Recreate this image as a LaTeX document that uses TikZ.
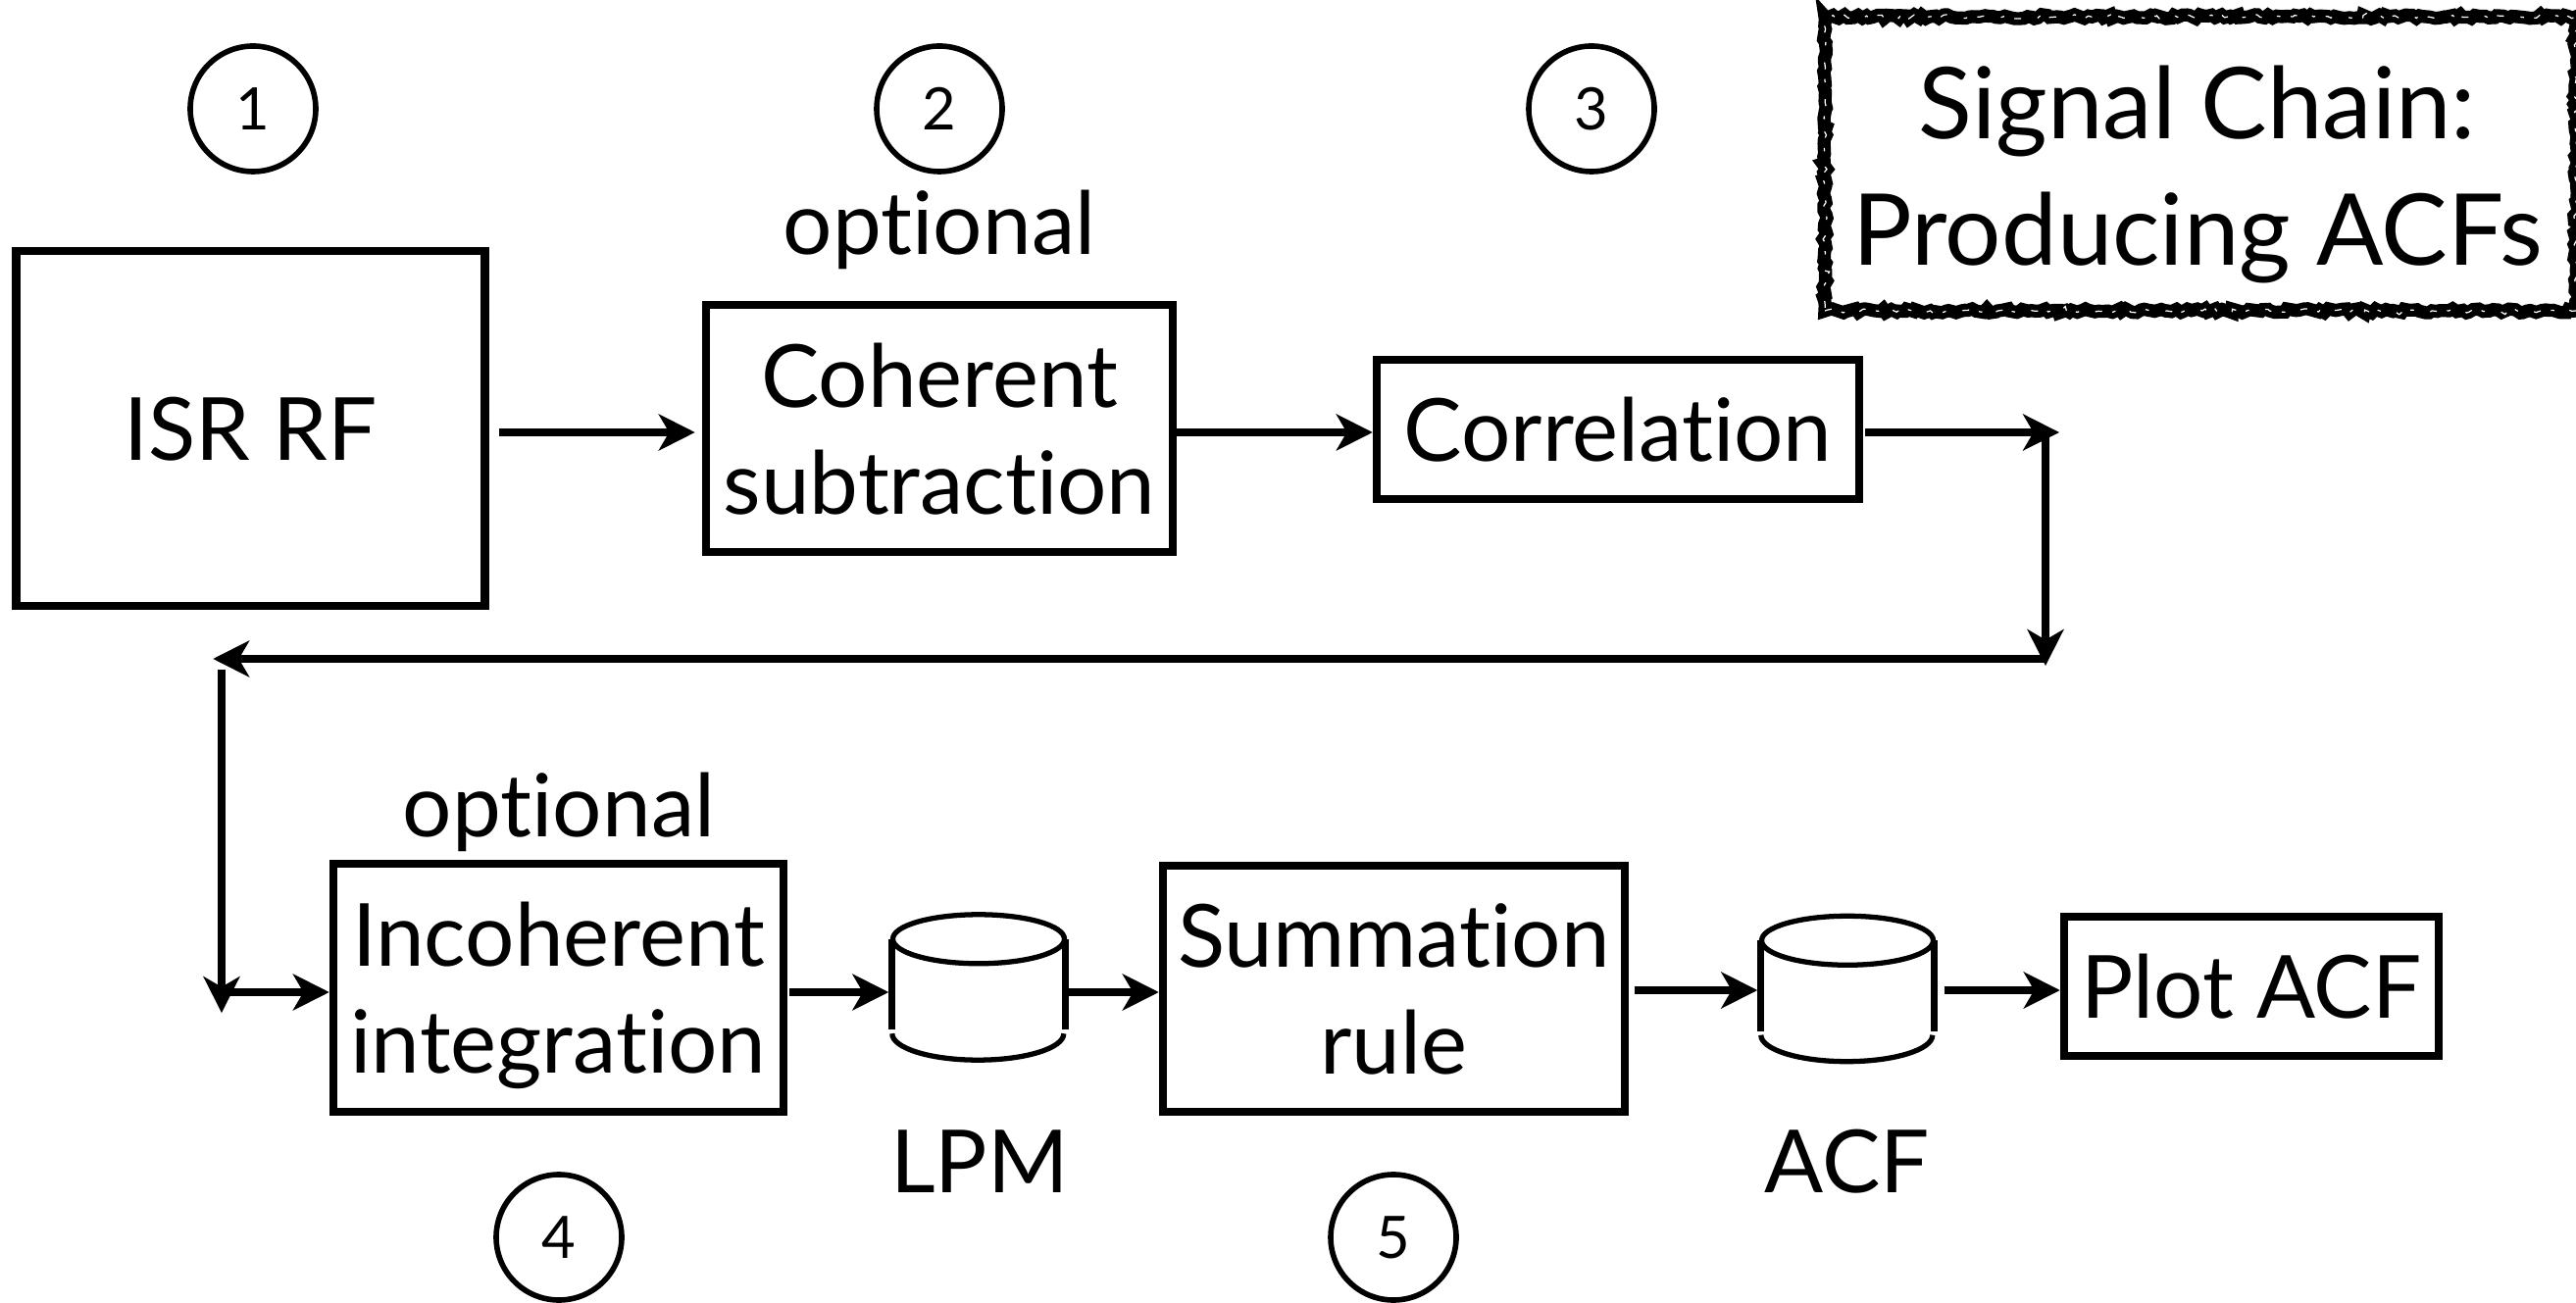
\documentclass[tikz,border=0pt]{standalone}
\usepackage{fontspec}
\setmainfont{Lato}[Ligatures={NoCommon}]
\usetikzlibrary{arrows.meta,decorations.pathmorphing}

\tikzstyle{stage} = [draw,line width=2.4pt,inner sep=0pt,align=center,text depth=0pt,font=\fontsize{25.3}{31}\selectfont]
\tikzstyle{caption} = [inner sep=0pt,align=center,font=\fontsize{25.3}{31}\selectfont]
\tikzstyle{stepnum} = [shape=circle,draw,line width=1.6pt,minimum size=1.28cm,inner sep=0pt,font=\fontsize{17}{19}\selectfont]
\tikzstyle{store} = [minimum width=1.75cm,minimum height=1.47cm,inner sep=0pt]
\tikzstyle{storerim} = [line width=1.5pt]
\tikzstyle{storeside} = [line width=2pt]
\tikzstyle{arrowdecorate} = [-{Stealth[length=10.5pt,width=10.5pt,inset=3pt]},line width=2.3pt]
\tikzstyle{roughbox} = [draw,line width=3.8pt,inner sep=0pt,
  decorate,decoration={random steps,segment length=1.2pt,amplitude=0.6pt},
  postaction={draw,white,line width=0.35pt,dash pattern=on 2pt off 3pt on 1pt off 5pt,decorate,decoration={random steps,segment length=1.5pt,amplitude=1.4pt}}]

\begin{document}
\begin{tikzpicture}
  \useasboundingbox (0,0) rectangle (26.27,-13.29);
  \pgfmathsetseed{12}

  \foreach \nodename/\caption/\x/\y/\w/\h in {
    isr/{ISR RF}/2.555/-4.37/4.78/3.62,
    coherent/{Coherent\\subtraction}/9.58/-4.37/4.76/2.52,
    correlation/{Correlation}/16.50/-4.38/4.92/1.42,
    incoherent/{Incoherent\\integration}/5.695/-10.075/4.59/2.53,
    summation/{Summation\\rule}/14.215/-10.085/4.71/2.51,
    plot/{Plot ACF}/22.96/-10.06/3.82/1.42}
  {
    \node[stage, minimum width=\w cm, minimum height=\h cm] (\nodename) at (\x,\y) {\caption};
  }

  \foreach \nodename/\value/\x/\y in {
    one/1/2.58/-1.11, two/2/9.58/-1.11, three/3/16.23/-1.11,
    four/4/5.70/-12.62, five/5/14.21/-12.62}
  {
    \node[stepnum] (\nodename) at (\x,\y) {\value};
  }

  \node[store] (lpm) at (9.98,-10.07) {};
  \node[store] (acf) at (18.84,-10.085) {};

  %drums
  \foreach \nodename in {lpm, acf}
  {
    \draw[storerim] ([yshift=-0.25cm]\nodename.north) ellipse [x radius=0.875, y radius=0.25];
    \draw[storeside] ([yshift=-0.25cm]\nodename.north west) -- ([yshift=0.31cm]\nodename.south west);
    \draw[storeside] ([yshift=-0.25cm]\nodename.north east) -- ([yshift=0.31cm]\nodename.south east);
    \draw[storerim] ([yshift=0.27cm]\nodename.south west) arc [start angle=180, end angle=360, x radius=0.875, y radius=0.27];
  }

  \node[caption] (optionala) at (9.58,-2.34) {optional};
  \node[caption] (optionalb) at (5.70,-8.28) {optional};
  \node[caption] (lpmname) at (9.99,-11.85) {LPM};
  \node[caption] (acfname) at (18.84,-11.85) {ACF};

  \node[roughbox, minimum width=7.66cm, minimum height=3.0cm] (titlebox) at (22.44,-1.67) {};
  \node[caption, font=\fontsize{28.8}{36.8}\selectfont] (title) at (22.41,-1.78) {Signal Chain:\\Producing ACFs};

  %bend points
  \coordinate (corner) at (20.86,-4.41);
  \coordinate (turn) at (20.86,-6.72);
  \coordinate (back) at (2.26,-6.72);
  \coordinate (drop) at (2.26,-10.12);
  \coordinate (rail) at (18.84,-10.10);

  %edges or lines
  \draw[arrowdecorate, shorten <=3pt, shorten >=2pt] (isr.east |- corner) -- (coherent.west |- corner);
  \draw[arrowdecorate] (coherent.east |- corner) -- (correlation.west |- corner);
  \draw[arrowdecorate, shorten <=0.5pt, shorten >=-4pt] (correlation.east |- corner) -- (corner);
  \draw[arrowdecorate, shorten >=-2pt] (corner) -- (turn);
  \draw[arrowdecorate, shorten >=-2.5pt] (turn) -- (back);
  \draw[arrowdecorate, shorten <=3pt, shorten >=-6pt] (back) -- (drop);
  \draw[arrowdecorate] (drop) -- (incoherent.west |- drop);
  \draw[arrowdecorate, shorten <=0.5pt, shorten >=1pt] (incoherent.east |- drop) -- (lpm.west |- drop);
  \draw[arrowdecorate] (lpm.east |- drop) -- (summation.west |- drop);
  \draw[arrowdecorate, shorten <=1.5pt, shorten >=1pt] (summation.east |- rail) -- (acf.west |- rail);
  \draw[arrowdecorate, shorten <=3pt] (acf.east |- rail) -- (plot.west |- rail);

\end{tikzpicture}
\end{document}
